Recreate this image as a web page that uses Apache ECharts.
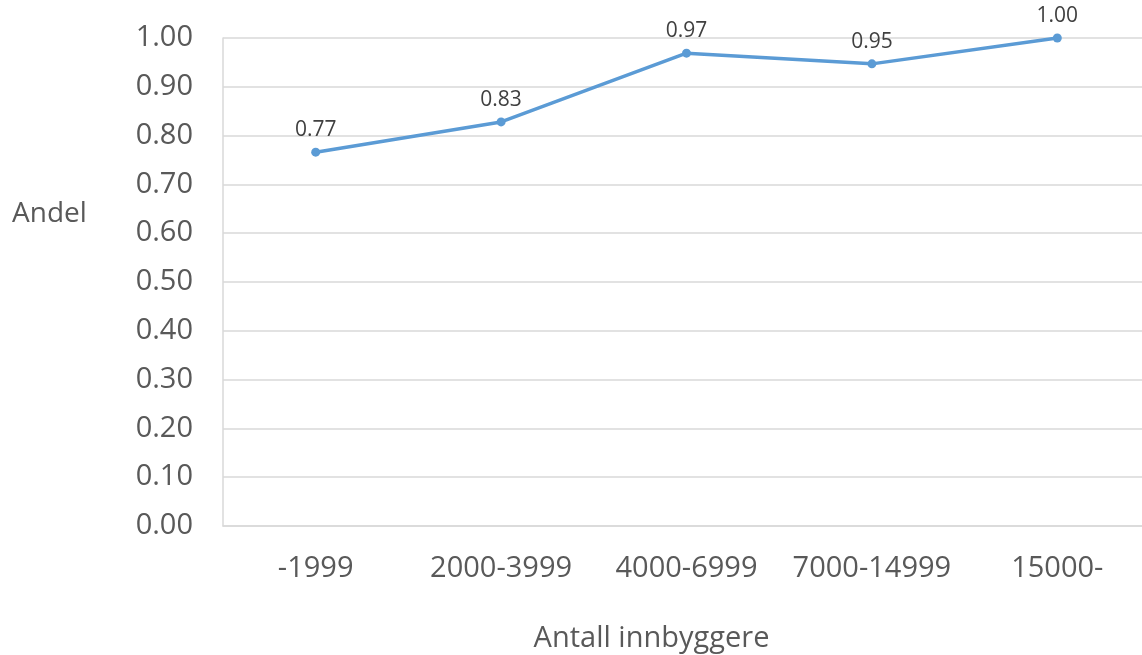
<!DOCTYPE html>
<html>
<head>
<meta charset="utf-8">
<script src="https://cdn.jsdelivr.net/npm/echarts@6/dist/echarts.min.js"></script>
<style>
  html, body { margin: 0; padding: 0; background: #fff; }
  #chart { width: 1142px; height: 655px; }
</style>
</head>
<body>
<div id="chart"></div>
<script>
// data
var categories = ["-1999", "2000-3999", "4000-6999", "7000-14999", "15000-"];
var andelValues = [0.766, 0.828, 0.969, 0.947, 1.0];
var yTicks = { min: 0, max: 1, interval: 0.1 };

var myechart = echarts.init(document.getElementById("chart"));
var option = {
  animation: false,
  textStyle: { fontFamily: "Open Sans" },
  grid: {
    left: 223,
    right: -8,
    top: 38,
    bottom: 129,
    outerBoundsMode: "none"
  },
  // y-aksenavn ligger høyere enn midten i originalen
  graphic: [
    {
      type: "text",
      left: 12,
      top: 200,
      style: { text: "Andel", fill: "#595959", fontSize: 28, fontFamily: "Open Sans" }
    }
  ],
  xAxis: {
    type: "category",
    data: categories,
    boundaryGap: true,
    name: "Antall innbyggere",
    nameLocation: "middle",
    nameGap: 98,
    nameTextStyle: { color: "#595959", fontSize: 29, padding: [0, 70, 0, 0] },
    axisLine: { lineStyle: { color: "#d9d9d9", width: 1.5 } },
    axisTick: { show: false },
    axisLabel: { color: "#595959", fontSize: 29, margin: 28, interval: 0 }
  },
  yAxis: {
    type: "value",
    min: yTicks.min,
    max: yTicks.max,
    interval: yTicks.interval,
    axisLine: { show: true, lineStyle: { color: "#d9d9d9", width: 1.5 } },
    axisTick: { show: false },
    axisLabel: {
      color: "#595959",
      fontSize: 29,
      margin: 30,
      formatter: function (v) { return v.toFixed(2); }
    },
    splitLine: { lineStyle: { color: "#d9d9d9", width: 1.5 } }
  },
  series: [
    {
      type: "line",
      data: andelValues,
      symbol: "circle",
      symbolSize: 9,
      lineStyle: { color: "#5b9bd5", width: 3.5 },
      itemStyle: { color: "#5b9bd5" },
      label: {
        show: true,
        position: "top",
        distance: 7,
        color: "#404040",
        fontSize: 21,
        formatter: function (p) { return p.value.toFixed(2); }
      }
    }
  ]
};
myechart.setOption(option);
</script>
</body>
</html>
